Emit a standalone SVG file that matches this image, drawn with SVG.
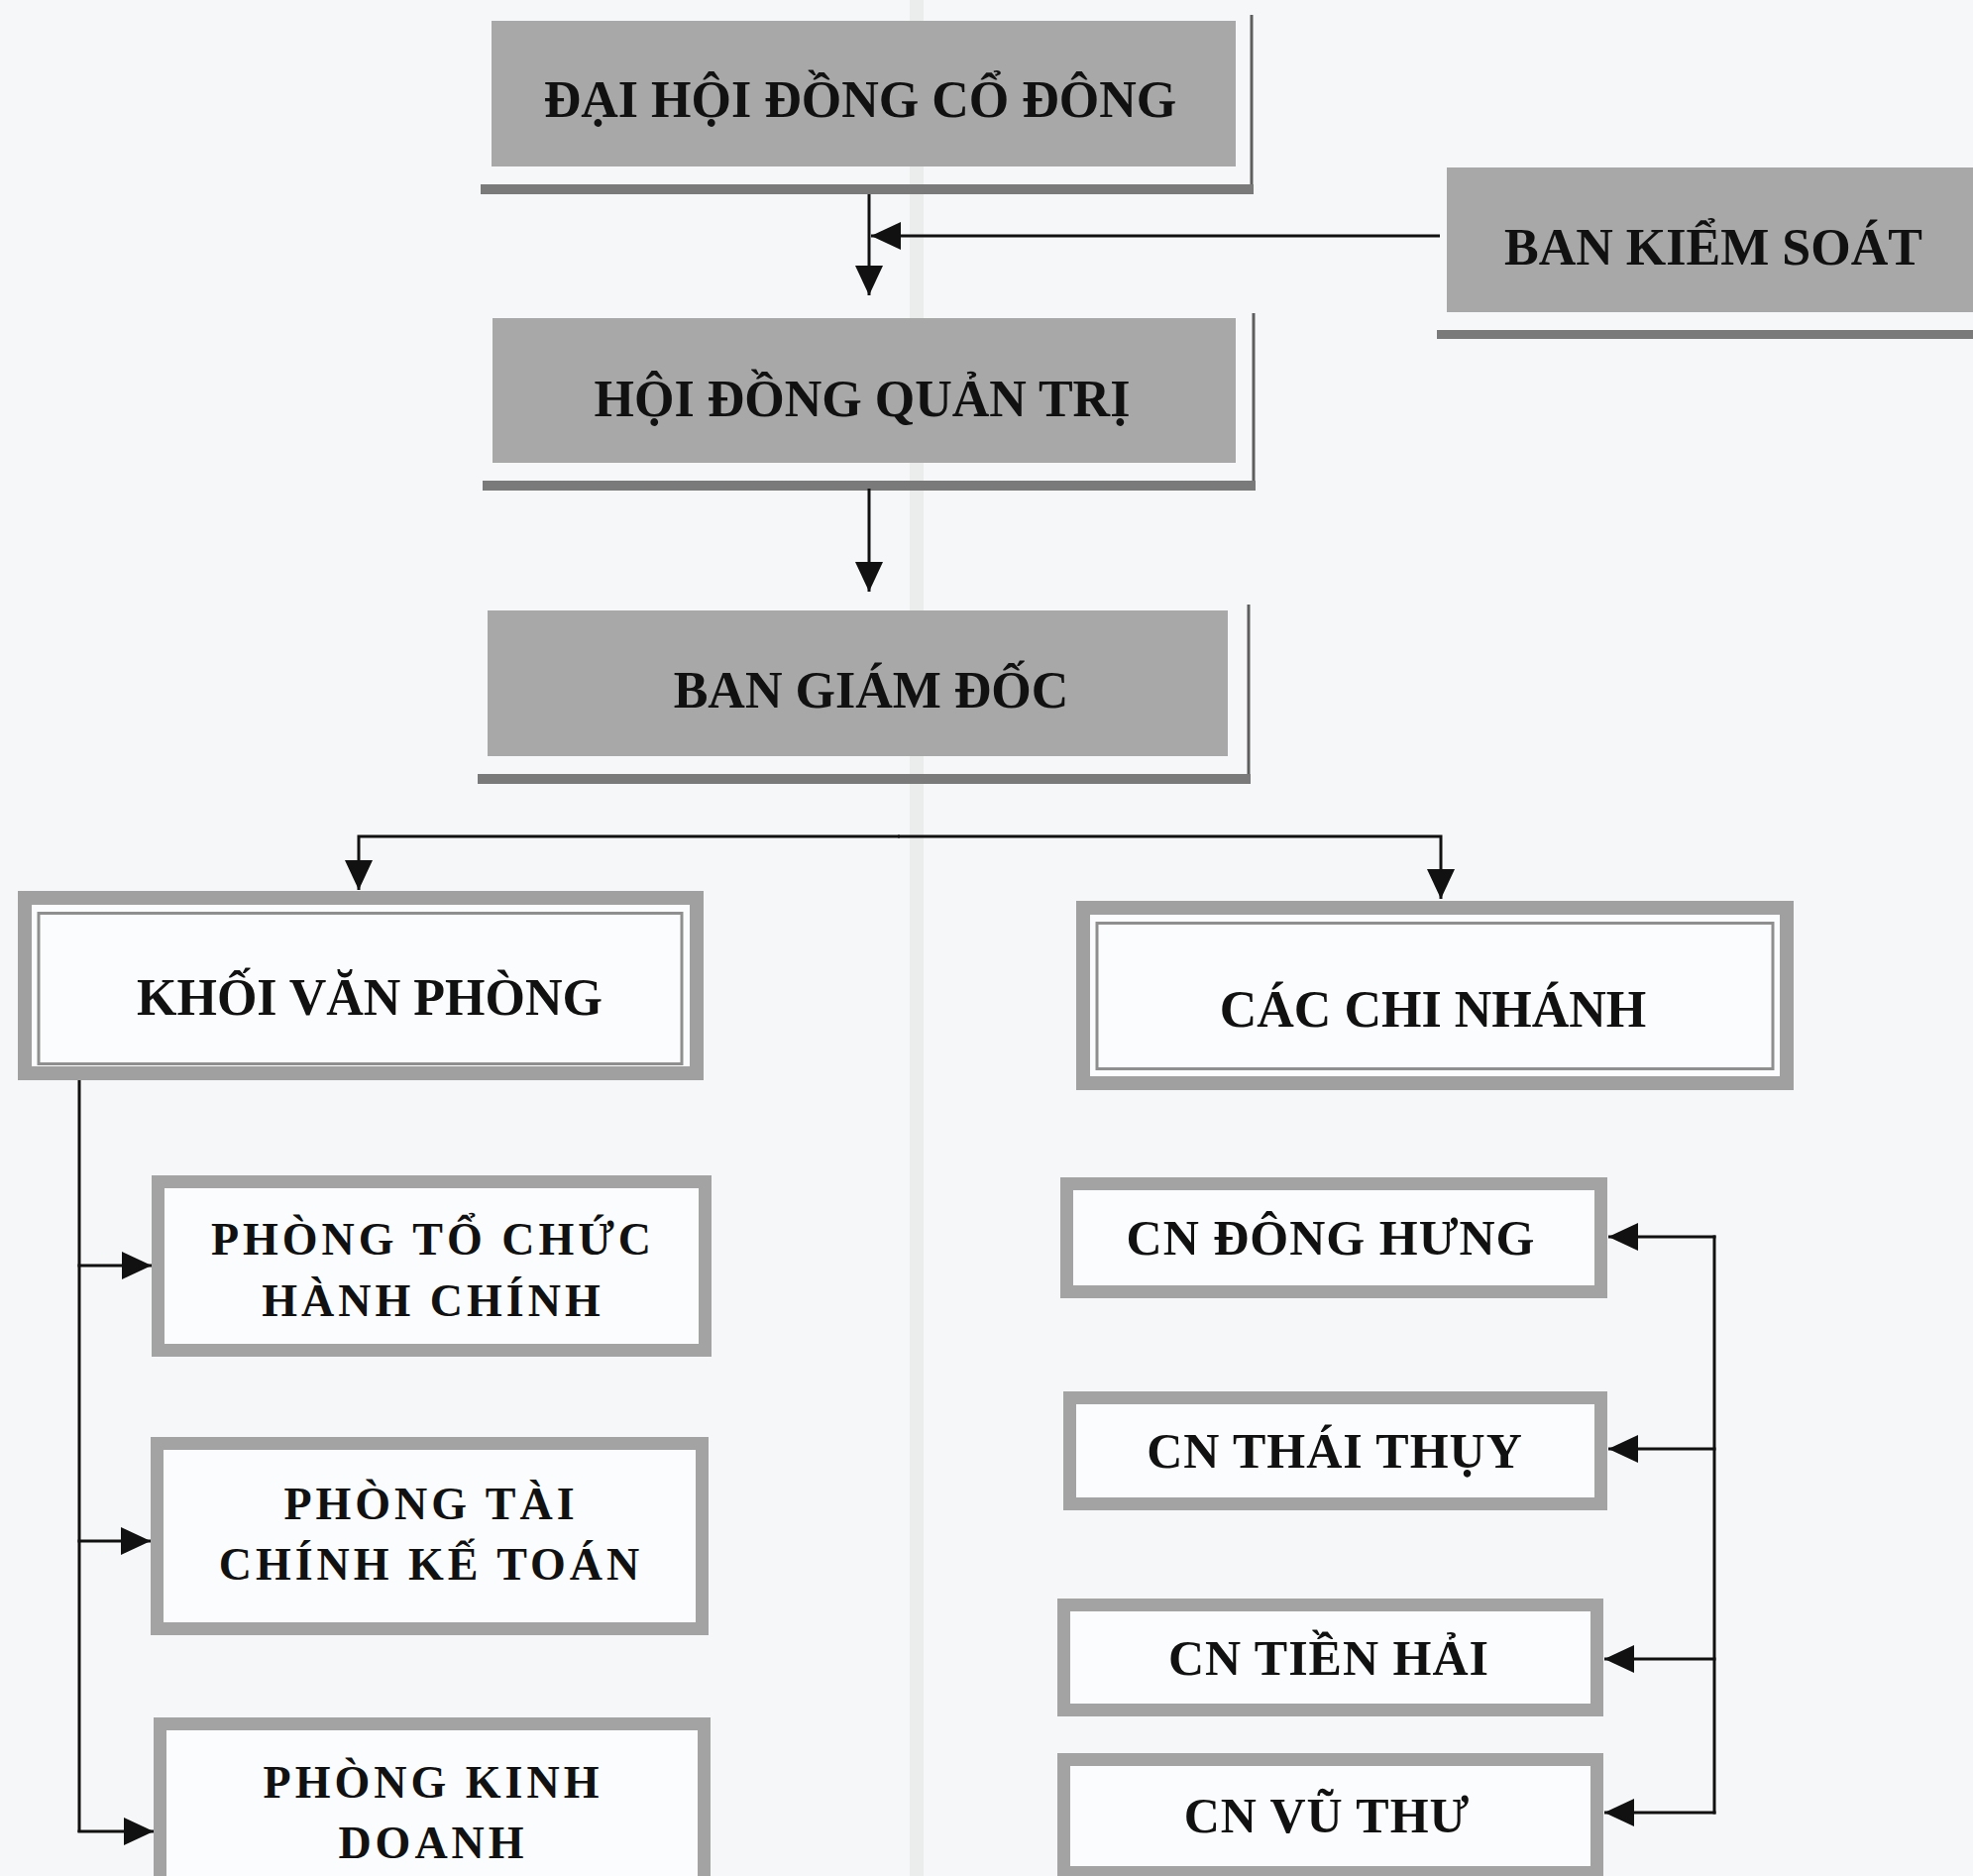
<svg xmlns="http://www.w3.org/2000/svg" width="1991" height="1893" viewBox="0 0 1991 1893">
<defs>
<marker id="ah" markerUnits="userSpaceOnUse" markerWidth="30" markerHeight="28" refX="30" refY="14" orient="auto">
<path d="M0,0 L30,14 L0,28 z" fill="#111"/>
</marker>
</defs>
<style>
.bg{fill:#f6f7f9}
.gray{fill:#a8a8a8}
.band{fill:#7a7a7a}
.rline{stroke:#5e5e5e;stroke-width:3;fill:none}
.frame{fill:#fbfcfd;stroke:#a0a0a0;stroke-width:14}
.finner{fill:none;stroke:#8f8f8f;stroke-width:3}
.box{fill:#fbfcfd;stroke:#a3a3a3;stroke-width:13}
.t{font-family:"Liberation Serif","Times New Roman",serif;font-weight:bold;fill:#111;text-anchor:middle}
.big{font-size:52px}
.lt{font-size:46px;letter-spacing:4px}
.rt{font-size:50px;letter-spacing:1px}
.conn path{fill:none;stroke:#111;stroke-width:3}
</style>
<rect class="bg" x="0" y="0" width="1991" height="1893"/>
<rect x="918" y="0" width="14" height="1893" fill="#dde3dd" opacity="0.5"/>

<g id="dai-hoi-dong-co-dong">
<rect class="gray" x="496" y="21" width="751" height="147"/>
<line class="rline" x1="1263" y1="15" x2="1263" y2="196"/>
<rect class="band" x="485" y="186" width="780" height="10"/>
<text class="t big" x="868" y="118">ĐẠI HỘI ĐỒNG CỔ ĐÔNG</text>
</g>

<g id="ban-kiem-soat">
<rect class="gray" x="1460" y="169" width="540" height="146"/>
<rect class="band" x="1450" y="333" width="550" height="9"/>
<text class="t big" x="1729" y="267">BAN KIỂM SOÁT</text>
</g>

<g id="hoi-dong-quan-tri">
<rect class="gray" x="497" y="321" width="750" height="146"/>
<line class="rline" x1="1265" y1="316" x2="1265" y2="495"/>
<rect class="band" x="487" y="485" width="780" height="10"/>
<text class="t big" x="870" y="420">HỘI ĐỒNG QUẢN TRỊ</text>
</g>

<g id="ban-giam-doc">
<rect class="gray" x="492" y="616" width="747" height="147"/>
<line class="rline" x1="1260" y1="610" x2="1260" y2="790"/>
<rect class="band" x="482" y="781" width="780" height="10"/>
<text class="t big" x="879" y="714">BAN GIÁM ĐỐC</text>
</g>

<g id="khoi-van-phong">
<rect class="frame" x="25" y="906" width="678" height="177"/>
<rect class="finner" x="39" y="921.5" width="649" height="152"/>
<text class="t big" x="373" y="1024">KHỐI VĂN PHÒNG</text>
</g>

<g id="cac-chi-nhanh">
<rect class="frame" x="1093" y="916" width="710" height="177"/>
<rect class="finner" x="1107" y="931.5" width="682" height="147"/>
<text class="t big" x="1446" y="1036">CÁC CHI NHÁNH</text>
</g>

<g id="phong-to-chuc-hanh-chinh">
<rect class="box" x="159.5" y="1192.5" width="552" height="170"/>
<text class="t lt" x="437" y="1266">PHÒNG TỔ CHỨC</text>
<text class="t lt" x="437" y="1328">HÀNH CHÍNH</text>
</g>

<g id="phong-tai-chinh-ke-toan">
<rect class="box" x="158.5" y="1456.5" width="550" height="187"/>
<text class="t lt" x="435" y="1533">PHÒNG TÀI</text>
<text class="t lt" x="435" y="1594">CHÍNH KẾ TOÁN</text>
</g>

<g id="phong-kinh-doanh">
<rect class="box" x="161.5" y="1739.5" width="549" height="175"/>
<text class="t lt" x="437" y="1814">PHÒNG KINH</text>
<text class="t lt" x="437" y="1875">DOANH</text>
</g>

<g id="cn-dong-hung">
<rect class="box" x="1076.5" y="1194.5" width="539" height="109"/>
<text class="t rt" x="1343" y="1266">CN ĐÔNG HƯNG</text>
</g>

<g id="cn-thai-thuy">
<rect class="box" x="1079.5" y="1410.5" width="536" height="107"/>
<text class="t rt" x="1347" y="1481">CN THÁI THỤY</text>
</g>

<g id="cn-tien-hai">
<rect class="box" x="1073.5" y="1619.5" width="538" height="106"/>
<text class="t rt" x="1341" y="1690">CN TIỀN HẢI</text>
</g>

<g id="cn-vu-thu">
<rect class="box" x="1073.5" y="1775.5" width="538" height="114"/>
<text class="t rt" x="1339" y="1849">CN VŨ THƯ</text>
</g>

<g id="connectors" class="conn">
<path d="M877,196 V298" marker-end="url(#ah)"/>
<path d="M1453,238 H879" marker-end="url(#ah)"/>
<path d="M877,493 V597" marker-end="url(#ah)"/>
<path d="M908,844 H362 V898" marker-end="url(#ah)"/>
<path d="M906,844 H1454 V907" marker-end="url(#ah)"/>
<path d="M80,1090 V1849"/>
<path d="M78.5,1277 H153" marker-end="url(#ah)"/>
<path d="M78.5,1555 H152" marker-end="url(#ah)"/>
<path d="M78.5,1848 H155" marker-end="url(#ah)"/>
<path d="M1730,1246.5 V1830.5"/>
<path d="M1731.5,1248 H1623" marker-end="url(#ah)"/>
<path d="M1731.5,1462 H1623" marker-end="url(#ah)"/>
<path d="M1731.5,1674 H1619" marker-end="url(#ah)"/>
<path d="M1731.5,1829 H1619" marker-end="url(#ah)"/>
</g>
</svg>
